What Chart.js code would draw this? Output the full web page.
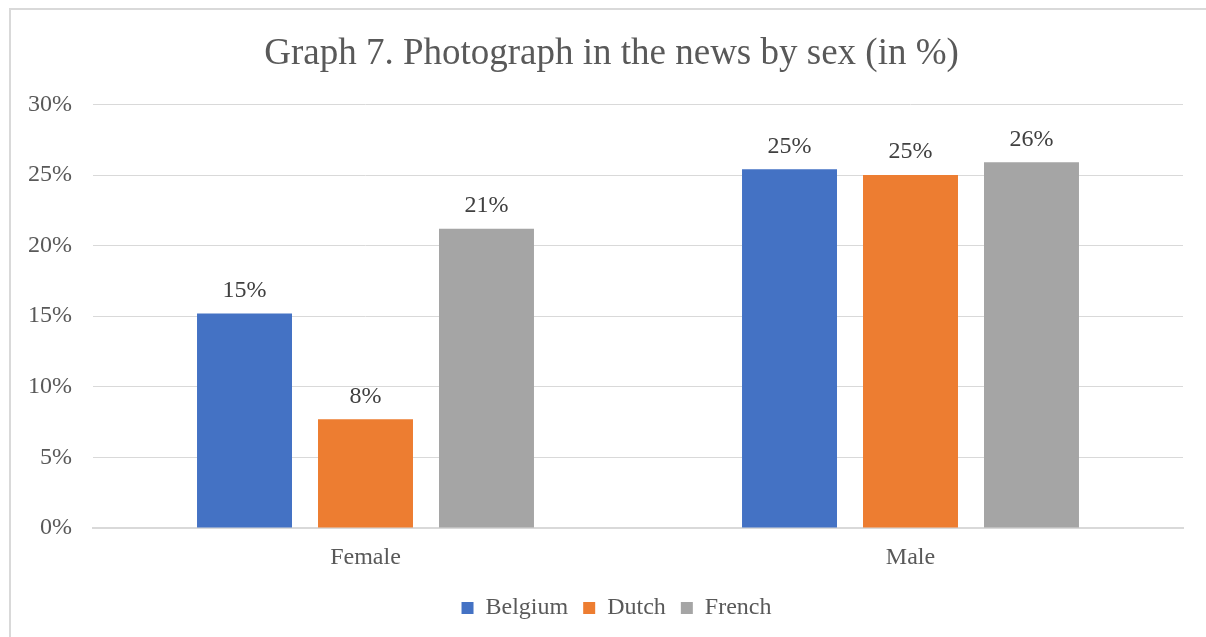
<!DOCTYPE html>
<html>
<head>
<meta charset="utf-8">
<script src="https://cdn.jsdelivr.net/npm/chart.js@4/dist/chart.umd.min.js"></script>
<style>
    body { margin: 0; background: #fff; }
    #frame {
        position: absolute; left: 9px; top: 8px;
        width: 1400px; height: 800px;
        border: 2px solid #d9d9d9;
    }
    #wrap { position: absolute; left: 0; top: 0; width: 1206px; height: 637px; }
</style>
</head>
<body>
<div id="frame"></div>
<div id="wrap"><canvas id="myChart"></canvas></div>
<script>
const categories = ["Female", "Male"]
const belgium = [15.2, 25.4]
const dutch = [7.7, 25.0]
const french = [21.2, 25.9]
const yTicks = [0, 5, 10, 15, 20, 25, 30]

const serif = "'Liberation Serif', 'Times New Roman', serif"
Chart.defaults.font.family = serif
Chart.defaults.color = "#595959"

// Draw value labels above each bar
const barLabels = {
    id: "barLabels",
    afterDatasetsDraw(chart) {
        const c = chart.ctx
        c.save()
        c.font = "24px " + serif
        c.fillStyle = "#404040"
        c.textAlign = "center"
        c.textBaseline = "middle"
        chart.data.datasets.forEach((ds, i) => {
            chart.getDatasetMeta(i).data.forEach((bar, j) => {
                c.fillText(Math.round(ds.data[j]) + "%", bar.x, bar.y - 23)
            })
        })
        c.restore()
    },
}

// Excel centres title and legend on the whole frame, not the padded area
const recentre = {
    id: "recentre",
    afterLayout(chart) {
        chart.titleBlock.left += 15
        chart.titleBlock.right += 15
        chart.legend.left += 20
        chart.legend.right += 20
    },
}

const ctx = document.getElementById("myChart").getContext("2d")

new Chart(ctx, {
    type: "bar",
    data: {
        labels: categories,
        datasets: [
            { label: "Belgium", data: belgium, backgroundColor: "#4472c4" },
            { label: "Dutch", data: dutch, backgroundColor: "#ed7d31" },
            { label: "French", data: french, backgroundColor: "#a5a5a5" },
        ],
    },
    options: {
        responsive: true,
        maintainAspectRatio: false,
        animation: false,
        categoryPercentage: 0.666,
        barPercentage: 0.785,
        layout: {
            padding: { top: 9, left: 10, right: 23, bottom: 7 },
        },
        scales: {
            y: {
                min: 0,
                max: 30,
                afterFit: (scale) => { scale.width = 83 },
                afterBuildTicks: (scale) => {
                    scale.ticks = yTicks.map((v) => ({ value: v }))
                },
                ticks: {
                    padding: 21,
                    font: { size: 24 },
                    color: "#595959",
                    callback: (v) => v + "%",
                },
                grid: { color: "#d9d9d9", drawTicks: false },
                border: { display: false },
            },
            x: {
                afterFit: (scale) => { scale.height = 53 },
                ticks: {
                    padding: 7,
                    font: { size: 24 },
                    color: "#595959",
                },
                grid: { display: false },
                border: { color: "#d9d9d9", width: 2 },
            },
        },
        plugins: {
            title: {
                display: true,
                text: "Graph 7. Photograph in the news by sex (in %)",
                font: { size: 37, weight: "normal" },
                color: "#595959",
                padding: { top: 23, bottom: 28 },
            },
            legend: {
                position: "bottom",
                labels: {
                    boxWidth: 12,
                    boxHeight: 12,
                    padding: 15,
                    font: { size: 24 },
                    color: "#595959",
                },
            },
            tooltip: { enabled: false },
        },
    },
    plugins: [barLabels, recentre],
})
</script>
</body>
</html>
